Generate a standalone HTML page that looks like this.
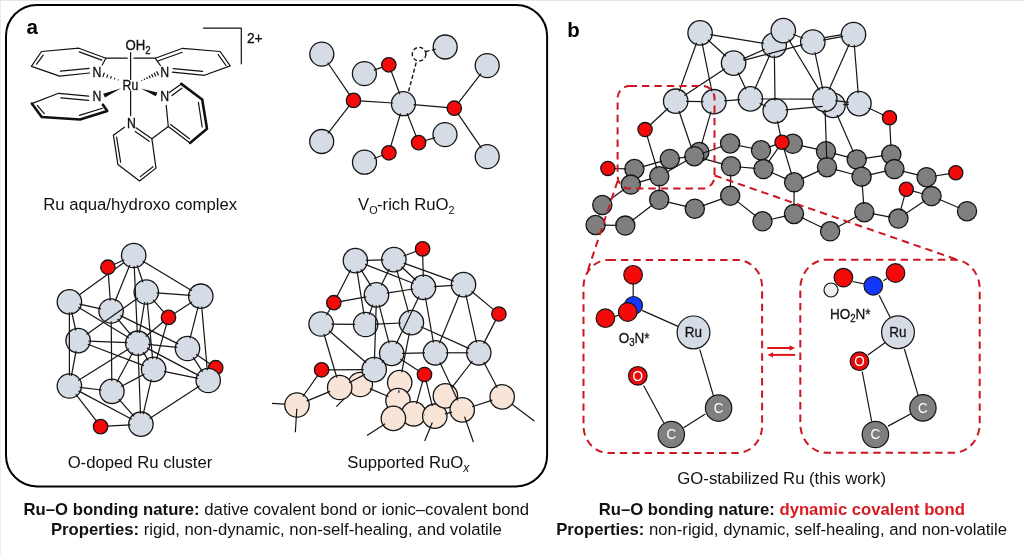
<!DOCTYPE html>
<html><head><meta charset="utf-8">
<style>
html,body{margin:0;padding:0;background:#fff;}
body{width:1024px;height:554px;overflow:hidden;}
svg{display:block;will-change:transform;}
text{font-family:"Liberation Sans",sans-serif;}
</style></head>
<body>
<svg width="1024" height="554" viewBox="0 0 1024 554">
<rect x="0" y="0" width="1024" height="554" fill="#fff"/>
<rect x="0" y="0" width="1024" height="1" fill="#e6e6e6"/>
<rect x="0" y="0" width="1" height="554" fill="#ebebeb"/>
<!-- panel a frame -->
<rect x="6" y="5" width="541.1" height="481.4" rx="31" ry="31" fill="none" stroke="#000" stroke-width="2"/>
<text x="26.6" y="34" font-size="20.6" font-weight="bold">a</text>
<text x="567.2" y="37.3" font-size="20.4" font-weight="bold">b</text>

<!-- captions -->
<g font-size="16.7" fill="#111">
<text x="140.2" y="210.4" text-anchor="middle">Ru aqua/hydroxo complex</text>
<text x="358" y="210.2">V<tspan font-size="10.8" dy="4">O</tspan><tspan dy="-4" dx="-0.5">-rich RuO</tspan><tspan font-size="10.8" dy="4">2</tspan></text>
<text x="140" y="467.9" text-anchor="middle">O-doped Ru cluster</text>
<text x="347.3" y="468">Supported RuO<tspan font-size="12" dy="4" font-style="italic">x</tspan></text>
<text x="781.7" y="484.3" text-anchor="middle">GO-stabilized Ru (this work)</text>
<text x="276.3" y="515.3" text-anchor="middle"><tspan font-weight="bold">Ru–O bonding nature:</tspan> dative covalent bond or ionic–covalent bond</text>
<text x="276.4" y="535.2" text-anchor="middle"><tspan font-weight="bold">Properties:</tspan> rigid, non-dynamic, non-self-healing, and volatile</text>
<text x="781.8" y="515.3" text-anchor="middle" font-weight="bold">Ru–O bonding nature: <tspan fill="#d91a22">dynamic covalent bond</tspan></text>
<text x="781.6" y="535.2" text-anchor="middle"><tspan font-weight="bold">Properties:</tspan> non-rigid, dynamic, self-healing, and non-volatile</text>
</g>

<!-- MOLECULES -->
<!-- Ru complex -->
<g stroke="#111" stroke-width="1.2" fill="none" stroke-linecap="round" stroke-linejoin="round">
<!-- upper-left pyridine -->
<polyline points="102.2,65 105.9,58.2 78.9,48.2 41.5,51.5 31.4,66.4 59.6,76.1 89.5,73"/>
<line x1="36.6" y1="64.2" x2="43.2" y2="55.2"/>
<line x1="79.3" y1="51.9" x2="101.8" y2="60.1"/>
<line x1="60.4" y1="71.2" x2="89.1" y2="68.3"/>
<line x1="105.9" y1="58.2" x2="127.3" y2="58.2"/>
<line x1="134" y1="58.2" x2="155.2" y2="58.2"/>
<!-- upper-right pyridine -->
<polyline points="160.4,65.5 155.2,58.2 182.7,48.3 220.2,51.5 230.2,65.9 204.4,75.3 172.4,72.2"/>
<line x1="157.8" y1="61" x2="182.3" y2="52.3"/>
<line x1="218.2" y1="54.6" x2="226" y2="65.5"/>
<line x1="173.3" y1="68.7" x2="202.6" y2="71.4"/>
<!-- vertical axis -->
<line x1="130.6" y1="52.6" x2="130.6" y2="79.5"/>
<line x1="130.6" y1="91.2" x2="130.6" y2="115.6"/>
<!-- lower-left pyridine -->
<polyline points="88.7,96.2 58.6,93.3 31.8,103.6"/>
<line x1="60.8" y1="97.9" x2="88.7" y2="100.3"/>
<line x1="37.3" y1="105.3" x2="44.2" y2="113.7"/>
<line x1="79.4" y1="115.4" x2="102.4" y2="108.3"/>
<polyline points="31.8,103.6 41.7,117 80,119.5 107.3,111 102.9,104.7" stroke-width="2.6"/>
<!-- lower bipyridine left ring -->
<polyline points="124.4,127.2 113.4,135.2 117.9,164.6 139.6,181 156,168.1 151.9,138.8 136,127.8"/>
<line x1="116.6" y1="137.2" x2="120.6" y2="162.2"/>
<line x1="140.4" y1="176.6" x2="153" y2="166.8"/>
<line x1="135.2" y1="131.6" x2="149.3" y2="141.2"/>
<line x1="151.9" y1="138.8" x2="168.3" y2="126.5"/>
<!-- right ring -->
<polyline points="166.2,105.4 168.3,126.5 190,142.9"/>
<line x1="170.6" y1="124.6" x2="189.5" y2="138.8"/>
<polyline points="190,142.9 207,128.8 202.2,99.5 181.3,83.9" stroke-width="2.6"/>
<line x1="181.3" y1="83.9" x2="169.3" y2="92.6"/>
<line x1="181.8" y1="88.2" x2="172" y2="95.6"/>
<line x1="198.4" y1="102.3" x2="202.2" y2="127"/>
<!-- bracket -->
<polyline points="203.5,28.2 241.3,28.2 241.3,63.8"/>
</g>
<g fill="#111">
<!-- solid wedges -->
<polygon points="121.30,88.20 104.83,97.53 103.17,93.67"/>
<polygon points="140.90,88.40 157.35,92.44 155.85,96.36"/>
</g>
<g stroke="#111" stroke-width="1.15" fill="none">
<!-- hashed wedges -->
<line x1="118.13" y1="80.39" x2="118.46" y2="79.44"/>
<line x1="114.36" y1="79.43" x2="114.89" y2="77.89"/>
<line x1="110.51" y1="78.68" x2="111.38" y2="76.14"/>
<line x1="106.67" y1="77.93" x2="107.88" y2="74.38"/>
<line x1="102.82" y1="77.17" x2="104.38" y2="72.63"/>
<line x1="141.55" y1="80.16" x2="141.97" y2="81.07"/>
<line x1="144.13" y1="78.83" x2="144.67" y2="80.00"/>
<line x1="146.63" y1="77.31" x2="147.45" y2="79.11"/>
<line x1="149.12" y1="75.78" x2="150.24" y2="78.23"/>
<line x1="151.62" y1="74.26" x2="153.02" y2="77.35"/>
<line x1="154.11" y1="72.74" x2="155.81" y2="76.47"/>
<line x1="156.61" y1="71.22" x2="158.59" y2="75.58"/>
</g>
<g fill="#111" font-size="12.3" stroke="#111" stroke-width="0.3">
<text transform="translate(92.6,76.6) scale(1,1.12)">N</text>
<text transform="translate(160.2,76.7) scale(1,1.12)">N</text>
<text transform="translate(92.4,101.4) scale(1,1.12)">N</text>
<text transform="translate(127,127.5) scale(1,1.12)">N</text>
<text transform="translate(160.3,101.4) scale(1,1.12)">N</text>
<text transform="translate(122.6,90) scale(1,1.12)">Ru</text>
<text transform="translate(125.5,50.4) scale(1,1.1)" font-size="13.2">OH<tspan font-size="9.6" dy="3.6">2</tspan></text>
<text transform="translate(246.9,43) scale(1,1.08)" font-size="13.8">2+</text>
</g>

<!-- VO RuO2 -->
<g stroke="#151515" stroke-width="1.2">
</g>
<g stroke="#151515" stroke-width="1.3">
<circle cx="321.8" cy="54.1" r="12" fill="#d6dce5"/>
<circle cx="364.4" cy="73.6" r="12" fill="#d6dce5"/>
<circle cx="403.4" cy="103.7" r="12" fill="#d6dce5"/>
<circle cx="445.2" cy="47" r="12" fill="#d6dce5"/>
<circle cx="487.2" cy="65.6" r="12" fill="#d6dce5"/>
<circle cx="321.7" cy="141.5" r="12" fill="#d6dce5"/>
<circle cx="445" cy="134.6" r="12" fill="#d6dce5"/>
<circle cx="364.5" cy="162.2" r="12" fill="#d6dce5"/>
<circle cx="487.2" cy="156.6" r="12" fill="#d6dce5"/>
<circle cx="388.8" cy="64.8" r="7.2" fill="#f50a0a"/>
<circle cx="353.5" cy="100.4" r="7.2" fill="#f50a0a"/>
<circle cx="454.3" cy="108.2" r="7.2" fill="#f50a0a"/>
<circle cx="418.6" cy="142.6" r="7.2" fill="#f50a0a"/>
<circle cx="388.9" cy="152.8" r="7.2" fill="#f50a0a"/>
</g>
<g stroke="#151515" stroke-width="1.2">
<line x1="327.6" y1="62.5" x2="350.0" y2="95.4"/>
<line x1="349.8" y1="105.2" x2="327.9" y2="133.4"/>
<line x1="359.6" y1="100.8" x2="393.2" y2="103.0"/>
<line x1="391.0" y1="70.5" x2="399.8" y2="94.2"/>
<line x1="383.0" y1="66.9" x2="374.0" y2="70.1"/>
<line x1="413.6" y1="104.6" x2="448.2" y2="107.7"/>
<line x1="458.0" y1="103.4" x2="481.0" y2="73.7"/>
<line x1="457.7" y1="113.3" x2="481.5" y2="148.2"/>
<line x1="400.5" y1="113.5" x2="390.6" y2="146.9"/>
<line x1="407.1" y1="113.2" x2="416.4" y2="136.9"/>
<line x1="424.5" y1="140.8" x2="435.2" y2="137.6"/>
<line x1="383.2" y1="155.0" x2="374.0" y2="158.5"/>
</g>
<g stroke="#111" stroke-width="1.4" fill="none" stroke-dasharray="4,2.4">
<line x1="408.6" y1="91.2" x2="416.6" y2="61"/>
<line x1="425.6" y1="51.6" x2="437.2" y2="48.8"/>
<circle cx="419.1" cy="54.2" r="6.8" fill="#fff"/>
</g>

<!-- O-doped cluster -->
<g stroke="#151515" stroke-width="1.2">
<line x1="69.4" y1="301.9" x2="133.7" y2="255.5"/>
</g>
<g stroke="#151515" stroke-width="1.3">
<circle cx="133.7" cy="255.5" r="12.2" fill="#d6dce5"/>
<circle cx="69.4" cy="301.9" r="12.2" fill="#d6dce5"/>
<circle cx="111.1" cy="311" r="12.2" fill="#d6dce5"/>
<circle cx="146.3" cy="292" r="12.2" fill="#d6dce5"/>
<circle cx="200.8" cy="296.2" r="12.2" fill="#d6dce5"/>
<circle cx="78.1" cy="340.6" r="12.2" fill="#d6dce5"/>
<circle cx="137.8" cy="343.2" r="12.2" fill="#d6dce5"/>
<circle cx="187.5" cy="348.5" r="12.2" fill="#d6dce5"/>
<circle cx="153.6" cy="369.3" r="12.2" fill="#d6dce5"/>
<circle cx="69.4" cy="386" r="12.2" fill="#d6dce5"/>
<circle cx="111.9" cy="391.3" r="12.2" fill="#d6dce5"/>
<circle cx="140.9" cy="424.2" r="12.2" fill="#d6dce5"/>
<circle cx="107.9" cy="267.2" r="7.2" fill="#f50a0a"/>
<circle cx="168.5" cy="317.4" r="7.2" fill="#f50a0a"/>
<circle cx="215.7" cy="367.7" r="7.2" fill="#f50a0a"/>
<circle cx="100.6" cy="426.6" r="7.2" fill="#f50a0a"/>
<circle cx="208.2" cy="380.5" r="12.2" fill="#d6dce5"/>
</g>
<g stroke="#151515" stroke-width="1.2">
<line x1="124.3" y1="259.8" x2="113.5" y2="264.7"/>
<line x1="129.8" y1="265.1" x2="115.0" y2="301.4"/>
<line x1="137.1" y1="265.3" x2="142.9" y2="282.2"/>
<line x1="134.2" y1="265.9" x2="137.3" y2="332.8"/>
<line x1="142.6" y1="260.9" x2="191.9" y2="290.8"/>
<line x1="108.3" y1="273.3" x2="110.3" y2="300.7"/>
<line x1="79.5" y1="304.1" x2="101.0" y2="308.8"/>
<line x1="71.7" y1="312.0" x2="75.8" y2="330.5"/>
<line x1="69.4" y1="312.3" x2="69.4" y2="375.6"/>
<line x1="78.3" y1="307.3" x2="128.9" y2="337.8"/>
<line x1="86.5" y1="334.6" x2="137.9" y2="298.0"/>
<line x1="117.7" y1="319.0" x2="131.2" y2="335.2"/>
<line x1="111.2" y1="321.4" x2="111.8" y2="380.9"/>
<line x1="120.4" y1="315.6" x2="178.2" y2="343.9"/>
<line x1="156.6" y1="292.8" x2="190.5" y2="295.4"/>
<line x1="153.1" y1="299.8" x2="164.5" y2="312.8"/>
<line x1="144.6" y1="302.2" x2="139.5" y2="333.0"/>
<line x1="147.3" y1="302.3" x2="152.6" y2="359.0"/>
<line x1="173.6" y1="314.0" x2="192.1" y2="301.9"/>
<line x1="163.8" y1="321.3" x2="145.7" y2="336.5"/>
<line x1="166.8" y1="323.3" x2="156.5" y2="359.3"/>
<line x1="198.2" y1="306.3" x2="190.1" y2="338.4"/>
<line x1="201.7" y1="306.5" x2="207.3" y2="370.2"/>
<line x1="88.5" y1="341.1" x2="127.4" y2="342.7"/>
<line x1="87.8" y1="344.3" x2="143.9" y2="365.6"/>
<line x1="76.1" y1="350.8" x2="71.4" y2="375.8"/>
<line x1="78.2" y1="380.5" x2="129.0" y2="348.7"/>
<line x1="79.7" y1="387.3" x2="101.6" y2="390.0"/>
<line x1="78.5" y1="390.9" x2="131.8" y2="419.3"/>
<line x1="75.7" y1="394.2" x2="96.9" y2="421.7"/>
<line x1="106.7" y1="426.2" x2="130.5" y2="424.8"/>
<line x1="118.8" y1="399.1" x2="134.0" y2="416.4"/>
<line x1="116.8" y1="382.2" x2="132.9" y2="352.3"/>
<line x1="121.1" y1="386.5" x2="144.4" y2="374.1"/>
<line x1="138.2" y1="353.6" x2="140.5" y2="413.8"/>
<line x1="151.3" y1="379.4" x2="143.2" y2="414.1"/>
<line x1="149.6" y1="418.6" x2="199.5" y2="386.1"/>
<line x1="163.8" y1="371.4" x2="198.0" y2="378.4"/>
<line x1="148.1" y1="344.3" x2="177.2" y2="347.4"/>
<line x1="147.0" y1="348.1" x2="199.0" y2="375.6"/>
<line x1="193.1" y1="357.2" x2="202.6" y2="371.8"/>
<line x1="196.1" y1="354.3" x2="210.6" y2="364.3"/>
<line x1="143.2" y1="352.1" x2="148.2" y2="360.4"/>
</g>


<!-- Supported RuOx -->
<g stroke="#151515" stroke-width="1.2">
</g>
<g stroke="#151515" stroke-width="1.3">
<circle cx="355.4" cy="260.6" r="12.2" fill="#d6dce5"/>
<circle cx="393.9" cy="259.6" r="12.2" fill="#d6dce5"/>
<circle cx="423.5" cy="287.3" r="12.2" fill="#d6dce5"/>
<circle cx="463.5" cy="284.6" r="12.2" fill="#d6dce5"/>
<circle cx="376.5" cy="294.9" r="12.2" fill="#d6dce5"/>
<circle cx="321.1" cy="324" r="12.2" fill="#d6dce5"/>
<circle cx="365.6" cy="324.5" r="12.2" fill="#d6dce5"/>
<circle cx="411.4" cy="322.6" r="12.2" fill="#d6dce5"/>
<circle cx="391.7" cy="353.4" r="12.2" fill="#d6dce5"/>
<circle cx="435.4" cy="352.8" r="12.2" fill="#d6dce5"/>
<circle cx="478.8" cy="352.8" r="12.2" fill="#d6dce5"/>
<circle cx="422.6" cy="248.9" r="7.2" fill="#f50a0a"/>
<circle cx="333.8" cy="302.7" r="7.2" fill="#f50a0a"/>
<circle cx="498.9" cy="314" r="7.2" fill="#f50a0a"/>
<circle cx="321.6" cy="369.8" r="7.2" fill="#f50a0a"/>
<circle cx="424.5" cy="374.5" r="7.2" fill="#f50a0a"/>
<circle cx="360.3" cy="384.5" r="12.2" fill="#f9e4d8"/>
<circle cx="339.7" cy="387.5" r="12.2" fill="#f9e4d8"/>
<circle cx="374.2" cy="369.6" r="12.2" fill="#d6dce5"/>
<circle cx="297" cy="405" r="12.2" fill="#f9e4d8"/>
<circle cx="399.7" cy="382.6" r="12.2" fill="#f9e4d8"/>
<circle cx="398" cy="400.6" r="12.2" fill="#f9e4d8"/>
<circle cx="413.7" cy="413.8" r="12.2" fill="#f9e4d8"/>
<circle cx="393.4" cy="418.4" r="12.2" fill="#f9e4d8"/>
<circle cx="434.8" cy="416.2" r="12.2" fill="#f9e4d8"/>
<circle cx="445.4" cy="395.9" r="12.2" fill="#f9e4d8"/>
<circle cx="462.2" cy="409.9" r="12.2" fill="#f9e4d8"/>
<circle cx="502.2" cy="396.9" r="12.2" fill="#f9e4d8"/>
</g>
<g stroke="#151515" stroke-width="1.2">
<line x1="365.8" y1="260.3" x2="383.5" y2="259.9"/>
<line x1="403.6" y1="256.0" x2="416.9" y2="251.0"/>
<line x1="422.7" y1="255.0" x2="423.3" y2="276.9"/>
<line x1="365.1" y1="264.4" x2="413.8" y2="283.5"/>
<line x1="403.7" y1="263.1" x2="453.7" y2="281.1"/>
<line x1="401.5" y1="266.7" x2="415.9" y2="280.2"/>
<line x1="389.3" y1="268.9" x2="381.1" y2="285.6"/>
<line x1="360.8" y1="269.4" x2="371.1" y2="286.1"/>
<line x1="350.7" y1="269.8" x2="336.6" y2="297.3"/>
<line x1="357.0" y1="270.8" x2="364.0" y2="314.3"/>
<line x1="339.8" y1="301.6" x2="366.3" y2="296.8"/>
<line x1="386.7" y1="293.2" x2="413.3" y2="289.0"/>
<line x1="433.8" y1="286.6" x2="453.2" y2="285.3"/>
<line x1="471.5" y1="291.2" x2="494.2" y2="310.1"/>
<line x1="496.1" y1="319.4" x2="483.6" y2="343.6"/>
<line x1="465.8" y1="294.7" x2="476.5" y2="342.7"/>
<line x1="459.5" y1="294.2" x2="439.4" y2="343.2"/>
<line x1="425.4" y1="297.5" x2="433.5" y2="342.6"/>
<line x1="419.0" y1="296.6" x2="396.2" y2="344.1"/>
<line x1="396.7" y1="269.6" x2="408.6" y2="312.6"/>
<line x1="330.7" y1="308.0" x2="326.4" y2="315.1"/>
<line x1="331.5" y1="324.1" x2="355.2" y2="324.4"/>
<line x1="376.0" y1="324.1" x2="401.0" y2="323.0"/>
<line x1="379.1" y1="304.9" x2="389.1" y2="343.4"/>
<line x1="376.2" y1="305.3" x2="374.5" y2="359.2"/>
<line x1="420.9" y1="326.8" x2="469.3" y2="348.6"/>
<line x1="329.0" y1="330.8" x2="366.3" y2="362.8"/>
<line x1="324.0" y1="334.0" x2="336.8" y2="377.5"/>
<line x1="384.1" y1="360.4" x2="381.8" y2="362.6"/>
<line x1="400.4" y1="359.0" x2="419.4" y2="371.2"/>
<line x1="409.4" y1="332.8" x2="401.7" y2="372.4"/>
<line x1="402.1" y1="353.3" x2="425.0" y2="352.9"/>
<line x1="445.8" y1="352.8" x2="468.4" y2="352.8"/>
<line x1="439.8" y1="362.2" x2="457.8" y2="400.5"/>
<line x1="472.4" y1="361.0" x2="451.8" y2="387.7"/>
<line x1="483.7" y1="362.0" x2="497.3" y2="387.7"/>
<line x1="426.0" y1="380.4" x2="432.3" y2="406.1"/>
<line x1="422.9" y1="380.4" x2="416.4" y2="403.8"/>
<line x1="327.7" y1="369.8" x2="363.8" y2="369.6"/>
<line x1="318.1" y1="374.8" x2="302.9" y2="396.5"/>
<line x1="348.9" y1="382.7" x2="365.0" y2="374.4"/>
<line x1="306.6" y1="401.1" x2="330.1" y2="391.4"/>
<line x1="369.8" y1="388.6" x2="388.5" y2="396.5"/>
<line x1="398.7" y1="392.9" x2="399.0" y2="390.3"/>
<line x1="424.0" y1="415.0" x2="424.5" y2="415.0"/>
<line x1="444.9" y1="413.9" x2="452.1" y2="412.2"/>
<line x1="472.1" y1="406.7" x2="492.3" y2="400.1"/>
<line x1="372.9" y1="304.6" x2="369.2" y2="314.8"/>
<line x1="284.8" y1="404.2" x2="271.9" y2="403.3"/>
<line x1="296.8" y1="408.7" x2="295.3" y2="432.2"/>
<line x1="385.2" y1="423.7" x2="367" y2="435.5"/>
<line x1="432.3" y1="422.4" x2="424.7" y2="441.1"/>
<line x1="464.6" y1="416.8" x2="473.4" y2="442"/>
<line x1="512.0" y1="404.2" x2="534.3" y2="421"/>
</g>
<line x1="344.3" y1="398.6" x2="336.3" y2="406.6" stroke="#151515" stroke-width="1.2"/>

<!-- panel b GO -->
<g stroke="#151515" stroke-width="1.2">
</g>
<g stroke="#151515" stroke-width="1.3">
<circle cx="700.1" cy="32.9" r="12.2" fill="#d6dce5"/>
<circle cx="733.6" cy="63.1" r="12.2" fill="#d6dce5"/>
<circle cx="774.2" cy="45.1" r="12.2" fill="#d6dce5"/>
<circle cx="783.3" cy="30.6" r="12.2" fill="#d6dce5"/>
<circle cx="812.8" cy="42" r="12.2" fill="#d6dce5"/>
<circle cx="853.5" cy="34.5" r="12.2" fill="#d6dce5"/>
<circle cx="675.7" cy="101.2" r="12.2" fill="#d6dce5"/>
<circle cx="713.9" cy="101.7" r="12.2" fill="#d6dce5"/>
<circle cx="750.4" cy="98.9" r="12.2" fill="#d6dce5"/>
<circle cx="775.2" cy="110.8" r="12.2" fill="#d6dce5"/>
<circle cx="833" cy="105.4" r="12.2" fill="#d6dce5"/>
<circle cx="824.8" cy="99.3" r="12.2" fill="#d6dce5"/>
<circle cx="859" cy="103.6" r="12.2" fill="#d6dce5"/>
<circle cx="699.3" cy="152" r="9.6" fill="#7f7f7f"/>
<circle cx="634.4" cy="169" r="9.6" fill="#7f7f7f"/>
<circle cx="669.8" cy="159" r="9.6" fill="#7f7f7f"/>
<circle cx="694.3" cy="156.2" r="9.6" fill="#7f7f7f"/>
<circle cx="730.1" cy="143.5" r="9.6" fill="#7f7f7f"/>
<circle cx="659.3" cy="176.3" r="9.6" fill="#7f7f7f"/>
<circle cx="630.8" cy="184.6" r="9.6" fill="#7f7f7f"/>
<circle cx="731" cy="166.3" r="9.6" fill="#7f7f7f"/>
<circle cx="602.3" cy="205" r="9.6" fill="#7f7f7f"/>
<circle cx="659.2" cy="199.8" r="9.6" fill="#7f7f7f"/>
<circle cx="694.8" cy="208.7" r="9.6" fill="#7f7f7f"/>
<circle cx="730.2" cy="195.8" r="9.6" fill="#7f7f7f"/>
<circle cx="595.6" cy="225" r="9.6" fill="#7f7f7f"/>
<circle cx="625.3" cy="225.6" r="9.6" fill="#7f7f7f"/>
<circle cx="761" cy="150.3" r="9.6" fill="#7f7f7f"/>
<circle cx="792.8" cy="143.8" r="9.6" fill="#7f7f7f"/>
<circle cx="826" cy="151.2" r="9.6" fill="#7f7f7f"/>
<circle cx="856.7" cy="159.4" r="9.6" fill="#7f7f7f"/>
<circle cx="891.3" cy="154.5" r="9.6" fill="#7f7f7f"/>
<circle cx="763.5" cy="169.1" r="9.6" fill="#7f7f7f"/>
<circle cx="794.1" cy="182.3" r="9.6" fill="#7f7f7f"/>
<circle cx="827" cy="167.2" r="9.6" fill="#7f7f7f"/>
<circle cx="861.6" cy="176.7" r="9.6" fill="#7f7f7f"/>
<circle cx="894.4" cy="169.1" r="9.6" fill="#7f7f7f"/>
<circle cx="926.6" cy="177.2" r="9.6" fill="#7f7f7f"/>
<circle cx="931.5" cy="196.1" r="9.6" fill="#7f7f7f"/>
<circle cx="967" cy="211.2" r="9.6" fill="#7f7f7f"/>
<circle cx="762.5" cy="221.3" r="9.6" fill="#7f7f7f"/>
<circle cx="794" cy="214" r="9.6" fill="#7f7f7f"/>
<circle cx="830.1" cy="231.3" r="9.6" fill="#7f7f7f"/>
<circle cx="864.3" cy="212.2" r="9.6" fill="#7f7f7f"/>
<circle cx="898.4" cy="218.6" r="9.6" fill="#7f7f7f"/>
<circle cx="645.1" cy="129.6" r="7.1" fill="#f50a0a"/>
<circle cx="607.9" cy="168.4" r="7.1" fill="#f50a0a"/>
<circle cx="782" cy="142.3" r="7.1" fill="#f50a0a"/>
<circle cx="889.5" cy="117.7" r="7.1" fill="#f50a0a"/>
<circle cx="955.8" cy="172.7" r="7.1" fill="#f50a0a"/>
<circle cx="906.3" cy="189.3" r="7.1" fill="#f50a0a"/>
</g>
<g stroke="#151515" stroke-width="1.2">
<line x1="710.3" y1="34.6" x2="764.0" y2="43.4"/>
<line x1="707.8" y1="39.8" x2="725.9" y2="56.2"/>
<line x1="696.6" y1="42.7" x2="679.2" y2="91.4"/>
<line x1="702.1" y1="43.1" x2="711.9" y2="91.5"/>
<line x1="724.9" y1="68.8" x2="684.4" y2="95.5"/>
<line x1="743.1" y1="58.9" x2="764.7" y2="49.3"/>
<line x1="743.6" y1="60.4" x2="802.8" y2="44.7"/>
<line x1="738.0" y1="72.5" x2="746.0" y2="89.5"/>
<line x1="686.1" y1="101.3" x2="703.5" y2="101.6"/>
<line x1="724.2" y1="100.9" x2="740.1" y2="99.7"/>
<line x1="754.6" y1="89.4" x2="770.0" y2="54.6"/>
<line x1="759.7" y1="103.4" x2="765.9" y2="106.3"/>
<line x1="774.4" y1="55.5" x2="775.0" y2="100.4"/>
<line x1="793.0" y1="34.3" x2="803.1" y2="38.3"/>
<line x1="823.0" y1="40.1" x2="843.3" y2="36.4"/>
<line x1="788.7" y1="39.5" x2="819.4" y2="90.4"/>
<line x1="814.9" y1="52.1" x2="822.7" y2="89.2"/>
<line x1="849.3" y1="44.0" x2="829.0" y2="89.8"/>
<line x1="854.3" y1="44.8" x2="858.2" y2="93.3"/>
<line x1="760.8" y1="99.0" x2="814.4" y2="99.2"/>
<line x1="785.5" y1="109.8" x2="822.7" y2="106.4"/>
<line x1="835.1" y1="100.6" x2="848.7" y2="102.3"/>
<line x1="843.3" y1="104.7" x2="848.7" y2="104.3"/>
<line x1="868.4" y1="108.0" x2="884.0" y2="115.2"/>
<line x1="777.4" y1="120.9" x2="780.7" y2="136.4"/>
<line x1="825.1" y1="109.7" x2="826.7" y2="159.0"/>
<line x1="837.2" y1="114.9" x2="853.4" y2="151.9"/>
<line x1="668.1" y1="108.3" x2="649.5" y2="125.5"/>
<line x1="679.0" y1="111.0" x2="691.7" y2="148.5"/>
<line x1="711.0" y1="111.7" x2="701.6" y2="144.2"/>
<line x1="646.9" y1="135.4" x2="656.9" y2="168.5"/>
<line x1="613.9" y1="168.5" x2="626.2" y2="168.8"/>
<line x1="642.3" y1="166.8" x2="661.9" y2="161.2"/>
<line x1="677.9" y1="158.1" x2="686.2" y2="157.1"/>
<line x1="666.4" y1="172.2" x2="687.2" y2="160.3"/>
<line x1="638.6" y1="182.3" x2="651.5" y2="178.6"/>
<line x1="624.2" y1="189.3" x2="608.9" y2="200.3"/>
<line x1="603.8" y1="225.2" x2="617.1" y2="225.4"/>
<line x1="631.8" y1="220.7" x2="652.7" y2="204.7"/>
<line x1="667.1" y1="201.8" x2="686.9" y2="206.7"/>
<line x1="659.3" y1="184.5" x2="659.2" y2="191.6"/>
<line x1="702.0" y1="153.5" x2="722.4" y2="146.2"/>
<line x1="738.1" y1="145.3" x2="753.0" y2="148.5"/>
<line x1="768.6" y1="147.4" x2="776.4" y2="144.4"/>
<line x1="702.2" y1="158.4" x2="723.1" y2="164.1"/>
<line x1="739.1" y1="167.0" x2="755.4" y2="168.4"/>
<line x1="768.1" y1="162.4" x2="778.6" y2="147.3"/>
<line x1="783.7" y1="148.1" x2="791.7" y2="174.5"/>
<line x1="771.0" y1="172.3" x2="786.6" y2="179.1"/>
<line x1="730.8" y1="174.5" x2="730.4" y2="187.6"/>
<line x1="702.5" y1="205.9" x2="722.5" y2="198.6"/>
<line x1="736.6" y1="200.9" x2="756.1" y2="216.2"/>
<line x1="770.4" y1="219.5" x2="786.1" y2="215.8"/>
<line x1="794.1" y1="190.5" x2="794.0" y2="205.8"/>
<line x1="800.8" y1="145.6" x2="818.0" y2="149.4"/>
<line x1="833.9" y1="153.3" x2="848.8" y2="157.3"/>
<line x1="864.8" y1="158.3" x2="883.2" y2="155.6"/>
<line x1="834.9" y1="169.4" x2="853.7" y2="174.5"/>
<line x1="869.5" y1="174.9" x2="886.5" y2="170.9"/>
<line x1="902.3" y1="171.1" x2="918.7" y2="175.2"/>
<line x1="862.2" y1="184.8" x2="863.7" y2="204.1"/>
<line x1="872.3" y1="213.7" x2="890.4" y2="217.1"/>
<line x1="900.5" y1="210.7" x2="904.7" y2="195.1"/>
<line x1="912.1" y1="190.9" x2="923.6" y2="194.0"/>
<line x1="905.1" y1="214.0" x2="924.8" y2="200.7"/>
<line x1="837.2" y1="227.3" x2="857.2" y2="216.2"/>
<line x1="801.4" y1="217.5" x2="822.7" y2="227.8"/>
<line x1="801.5" y1="178.9" x2="819.6" y2="170.6"/>
<line x1="934.7" y1="176.0" x2="949.8" y2="173.6"/>
<line x1="939.0" y1="199.3" x2="959.5" y2="208.0"/>
<line x1="889.8" y1="123.7" x2="890.9" y2="146.3"/>
</g>
<line x1="824.5" y1="37.6" x2="842" y2="34.6" stroke="#151515" stroke-width="1.2"/>

<!-- dashed boxes -->
<g fill="none" stroke="#cc1722" stroke-width="2" stroke-dasharray="7.4,5">
<rect x="617.6" y="86" width="96.9" height="102.5" rx="12" ry="12"/>
<line x1="617.6" y1="181" x2="588" y2="270"/>
<line x1="714.5" y1="175.5" x2="957" y2="259.6"/>
<rect x="583.5" y="259.9" width="178.6" height="193" rx="25" ry="27"/>
<rect x="800.3" y="259.7" width="179.4" height="193" rx="26" ry="29"/>
</g>
<!-- equilibrium arrows -->
<g stroke="#e01616" stroke-width="2" fill="#e01616">
<line x1="767.3" y1="348" x2="791" y2="348"/>
<polygon points="795,348 789.5,345.3 789.5,350.7" stroke="none"/>
<line x1="795.1" y1="354.9" x2="771" y2="354.9"/>
<polygon points="767.5,354.9 773,352.2 773,357.6" stroke="none"/>
</g>
<!-- left box contents -->
<g stroke="#151515" stroke-width="1.2">
<line x1="633.2" y1="284" x2="633.2" y2="297"/>
<line x1="614.5" y1="316.6" x2="619" y2="315"/>
<line x1="642" y1="310.4" x2="678.6" y2="326.6"/>
<line x1="643.6" y1="385.5" x2="663.7" y2="422.7"/>
<line x1="683.6" y1="427.7" x2="705.3" y2="414"/>
<line x1="699.8" y1="349.7" x2="713.9" y2="397.4"/>
<circle cx="633.1" cy="274.8" r="9.3" fill="#f50a0a"/>
<circle cx="633.5" cy="305.5" r="9" fill="#1238ff"/>
<circle cx="627.7" cy="312" r="9.3" fill="#f50a0a"/>
<circle cx="605.4" cy="318.2" r="9.3" fill="#f50a0a"/>
<circle cx="693.5" cy="332.4" r="16.4" fill="#d6dce5"/>
<circle cx="637.8" cy="375.8" r="9.3" fill="#e80a0a"/>
<circle cx="718.6" cy="408.1" r="13.2" fill="#7f7f7f"/>
<circle cx="671.3" cy="434.5" r="13.2" fill="#7f7f7f"/>
</g>
<!-- right box contents -->
<g stroke="#151515" stroke-width="1.2">
<line x1="852.6" y1="281.5" x2="863.8" y2="283.8"/>
<line x1="883.3" y1="280.7" x2="887.1" y2="278.4"/>
<line x1="879.1" y1="295.3" x2="890.2" y2="317.5"/>
<line x1="885" y1="342.7" x2="867.8" y2="354.9"/>
<line x1="904.4" y1="349" x2="918.3" y2="395.8"/>
<line x1="862.2" y1="371.5" x2="871.6" y2="421"/>
<line x1="888" y1="426.1" x2="911.5" y2="413.5"/>
<circle cx="831" cy="290" r="7" fill="#f0f0f0"/>
<circle cx="843.4" cy="277.6" r="9.3" fill="#f50a0a"/>
<circle cx="873.3" cy="285.8" r="9.3" fill="#1238ff"/>
<circle cx="895.5" cy="273" r="9.3" fill="#f50a0a"/>
<circle cx="898" cy="332.2" r="16.4" fill="#d6dce5"/>
<circle cx="859.5" cy="361.2" r="9.3" fill="#e80a0a"/>
<circle cx="922.9" cy="407.9" r="13.2" fill="#7f7f7f"/>
<circle cx="875.4" cy="434.5" r="13.2" fill="#7f7f7f"/>
</g>
<g font-size="13.5" fill="#111" stroke="#111" stroke-width="0.25">
<text transform="translate(693.5,337.2) scale(1,1.13)" text-anchor="middle">Ru</text>
<text transform="translate(898,337) scale(1,1.13)" text-anchor="middle">Ru</text>
<text transform="translate(618.7,342.9) scale(1,1.13)">O<tspan font-size="9.6" dy="2.6">3</tspan><tspan dy="-2.6">N*</tspan></text>
<text transform="translate(830,319.1) scale(1,1.13)">HO<tspan font-size="9.6" dy="2.6">2</tspan><tspan dy="-2.6">N*</tspan></text>
</g>
<g font-size="13.5" fill="#fff" text-anchor="middle">
<text transform="translate(637.8,380.6) scale(1,1.13)">O</text>
<text transform="translate(859.5,366) scale(1,1.13)">O</text>
<text transform="translate(718.6,412.9) scale(1,1.13)">C</text>
<text transform="translate(671.3,439.3) scale(1,1.13)">C</text>
<text transform="translate(922.9,412.7) scale(1,1.13)">C</text>
<text transform="translate(875.4,439.3) scale(1,1.13)">C</text>
</g>


</svg>
</body></html>
